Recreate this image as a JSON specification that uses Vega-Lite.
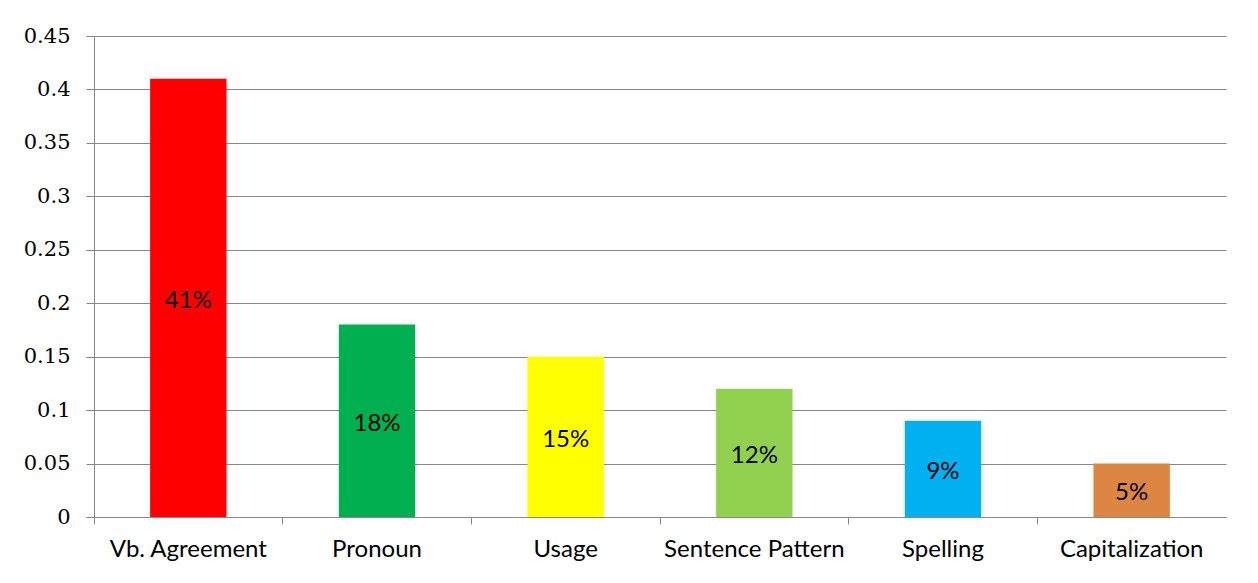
{
  "$schema": "https://vega.github.io/schema/vega-lite/v6.json",
  "width": 1132,
  "height": 481,
  "autosize": {"type": "none"},
  "padding": {"left": 94, "top": 36, "right": 32, "bottom": 66},
  "background": "white",
  "config": {
    "view": {"stroke": null}
  },
  "data": {"values": [
    {"category": "Vb. Agreement", "value": 0.41, "color": "#FF0000"},
    {"category": "Pronoun", "value": 0.18, "color": "#00B050"},
    {"category": "Usage", "value": 0.15, "color": "#FFFF00"},
    {"category": "Sentence Pattern", "value": 0.12, "color": "#92D050"},
    {"category": "Spelling", "value": 0.09, "color": "#00B0F0"},
    {"category": "Capitalization", "value": 0.05, "color": "#DD8543"}
  ]},
  "encoding": {
    "x": {
      "field": "category", "type": "nominal", "sort": null,
      "scale": {"paddingInner": 0, "paddingOuter": 0},
      "axis": {
        "title": null, "labelAngle": 0, "bandPosition": 0,
        "domainColor": "#888888", "tickColor": "#888888", "tickSize": 7,
        "labelAlign": "center", "labelFont": "Lato", "labelFontSize": 24, "labelColor": "#000000", "labelPadding": 13, "labelLimit": 0
      }
    }
  },
  "layer": [
    {
      "mark": {"type": "bar", "width": {"band": 0.405}},
      "encoding": {
        "y": {
          "field": "value", "type": "quantitative",
          "scale": {"domain": [0, 0.45], "nice": false},
          "axis": {
            "title": null, "values": [0, 0.05, 0.1, 0.15, 0.2, 0.25, 0.3, 0.35, 0.4, 0.45],
            "format": "~g", "grid": true, "gridColor": "#888888", "gridWidth": 1.2,
            "domainColor": "#888888", "tickColor": "#888888", "tickSize": 8,
            "labelFont": "DejaVu Serif", "labelFontSize": 21, "labelColor": "#000000", "labelPadding": 16
          }
        },
        "color": {"field": "color", "type": "nominal", "scale": null}
      }
    },
    {
      "mark": {"type": "text", "font": "Lato", "fontSize": 24, "color": "#000000", "baseline": "middle", "dy": 3},
      "encoding": {
        "y": {
          "field": "value", "type": "quantitative",
          "scale": {"domain": [0, 0.9], "nice": false},
          "axis": null
        },
        "text": {"field": "value", "type": "quantitative", "format": ".0%"}
      }
    }
  ],
  "resolve": {"scale": {"y": "independent"}}
}
